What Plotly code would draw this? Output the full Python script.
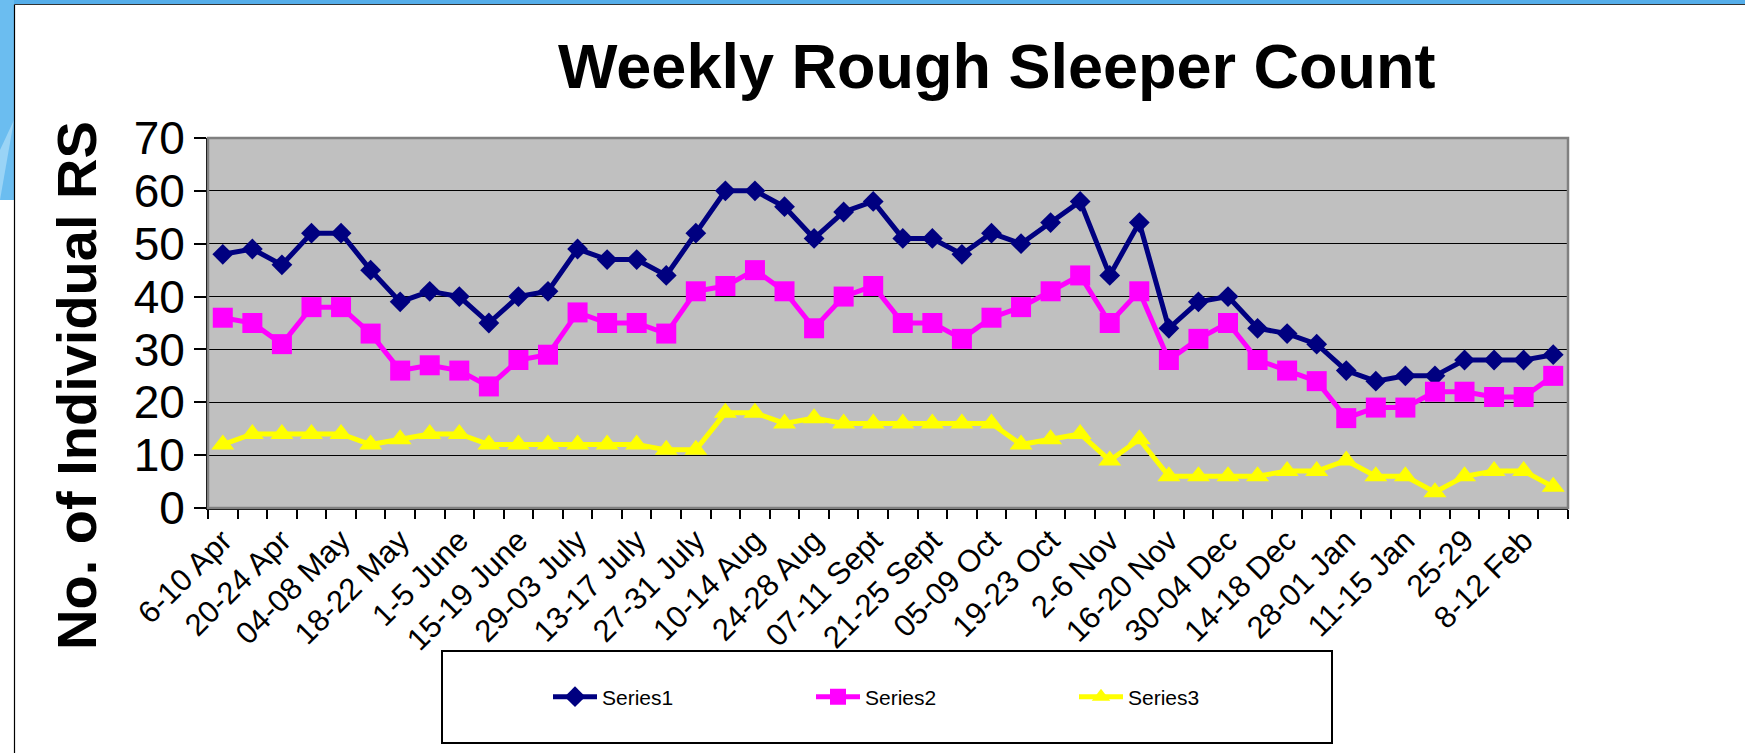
import plotly.graph_objects as go

# ---- data ----
tick_labels = ["6-10 Apr", "20-24 Apr", "04-08 May", "18-22 May", "1-5 June", "15-19 June",
               "29-03 July", "13-17 July", "27-31 July", "10-14 Aug", "24-28 Aug", "07-11 Sept",
               "21-25 Sept", "05-09 Oct", "19-23 Oct", "2-6 Nov", "16-20 Nov", "30-04 Dec",
               "14-18 Dec", "28-01 Jan", "11-15 Jan", "25-29", "8-12 Feb"]
series1 = [48, 49, 46, 52, 52, 45, 39, 41, 40, 35, 40, 41, 49, 47, 47, 44, 52, 60, 60, 57,
           51, 56, 58, 51, 51, 48, 52, 50, 54, 58, 44, 54, 34, 39, 40, 34, 33, 31, 26, 24,
           25, 25, 28, 28, 28, 29]
series2 = [36, 35, 31, 38, 38, 33, 26, 27, 26, 23, 28, 29, 37, 35, 35, 33, 41, 42, 45, 41,
           34, 40, 42, 35, 35, 32, 36, 38, 41, 44, 35, 41, 28, 32, 35, 28, 26, 24, 17, 19,
           19, 22, 22, 21, 21, 25]
series3 = [12, 14, 14, 14, 14, 12, 13, 14, 14, 12, 12, 12, 12, 12, 12, 11, 11, 18, 18, 16,
           17, 16, 16, 16, 16, 16, 16, 12, 13, 14, 9, 13, 6, 6, 6, 6, 7, 7, 9, 6,
           6, 3, 6, 7, 7, 4]
series_names = ["Series1", "Series2", "Series3"]
y_ticks = [0, 10, 20, 30, 40, 50, 60, 70]

# ---- geometry (pixels) ----
W, H = 1745, 753
PL, PR, PT, PB = 208, 1568, 138, 508
PW, PH = PR - PL, PB - PT


def px(x):
    return (x - PL) / PW


def py(y):
    return (PB - y) / PH


n = len(series1)
xs = list(range(n))

fig = go.Figure()
styles = [
    dict(color="#000080", symbol="diamond", size=16),
    dict(color="#FF00FF", symbol="square", size=20),
    dict(color="#FFFF00", symbol="triangle-up", size=20),
]
for name, vals, st in zip(series_names, [series1, series2, series3], styles):
    fig.add_trace(go.Scatter(
        x=xs, y=vals, name=name, mode="lines+markers",
        line=dict(color=st["color"], width=5),
        marker=dict(color=st["color"], symbol=st["symbol"], size=st["size"],
                    line=dict(width=0)),
    ))

shapes = [
    # top blue band
    dict(type="rect", xref="paper", yref="paper", x0=px(0), x1=px(W), y0=py(0), y1=py(4.5),
         fillcolor="#55AEEA", line=dict(width=0), layer="below"),
    # left blue area
    dict(type="rect", xref="paper", yref="paper", x0=px(0), x1=px(14), y0=py(0), y1=py(200),
         fillcolor="#6BBDF0", line=dict(width=0), layer="below"),
    dict(type="path", xref="paper", yref="paper",
         path="M {a},{b} L {c},{d} L {e},{f} Z".format(a=px(0), b=py(150), c=px(14), d=py(120),
                                                       e=px(0), f=py(200)),
         fillcolor="#9AD4F6", line=dict(width=0), layer="below"),
    # white box border
    dict(type="line", xref="paper", yref="paper", x0=px(14.5), x1=px(14.5), y0=py(4.5), y1=py(H),
         line=dict(color="black", width=1.2), layer="below"),
    dict(type="line", xref="paper", yref="paper", x0=px(14.5), x1=px(W), y0=py(4.5), y1=py(4.5),
         line=dict(color="#333333", width=1.2), layer="below"),
    # plot-area border (top/right grey)
    dict(type="rect", xref="paper", yref="paper", x0=0, x1=1, y0=0, y1=1,
         line=dict(color="#808080", width=2.5), layer="above"),
    # legend box
    dict(type="rect", xref="paper", yref="paper", x0=px(442), x1=px(1332), y0=py(651), y1=py(743),
         fillcolor="white", line=dict(color="black", width=2), layer="above"),
]

annotations = [
    dict(text="<b>Weekly Rough Sleeper Count</b>", xref="paper", yref="paper",
         x=px(996), y=py(66), xanchor="center", yanchor="middle", showarrow=False,
         font=dict(family="Liberation Sans, Arial", size=63, color="black")),
    dict(text="<b>No. of Individual RS</b>", xref="paper", yref="paper",
         x=px(76), y=py(386), xanchor="center", yanchor="middle", showarrow=False, textangle=-90,
         font=dict(family="Liberation Sans, Arial", size=56, color="black")),
]

fig.update_layout(
    width=W, height=H,
    margin=dict(l=PL, r=W - PR, t=PT, b=H - PB, pad=0),
    paper_bgcolor="white", plot_bgcolor="#C0C0C0",
    font=dict(family="Liberation Sans, Arial", color="black"),
    shapes=shapes, annotations=annotations,
    showlegend=True,
    legend=dict(orientation="h", x=px(548), y=py(697), xanchor="left", yanchor="middle",
                bgcolor="rgba(0,0,0,0)", borderwidth=0,
                entrywidth=204, entrywidthmode="pixels",
                font=dict(family="Liberation Sans, Arial", size=21, color="black"),
                itemwidth=44),
)

fig.update_xaxes(
    range=[-0.5, n - 0.5], tickmode="array",
    tickvals=[2 * i for i in range(len(tick_labels))], ticktext=tick_labels,
    tickangle=-45, tickfont=dict(size=31, color="black"),
    ticks="", showgrid=False, zeroline=False,
    showline=True, linecolor="black", linewidth=2,
    minor=dict(tick0=-0.5, dtick=1, ticks="outside", ticklen=9, tickwidth=1.5,
               tickcolor="black", showgrid=False),
)
fig.update_yaxes(
    range=[0, 70], tickmode="array", tickvals=y_ticks,
    tickfont=dict(size=46, color="black"),
    ticks="outside", ticklen=12, tickwidth=1.5, tickcolor="black",
    showgrid=True, gridcolor="black", gridwidth=1.2, zeroline=False,
    showline=True, linecolor="black", linewidth=2,
)

fig.write_html("out.html", config={"displayModeBar": False},
               post_script="document.body.style.margin='0px';")
